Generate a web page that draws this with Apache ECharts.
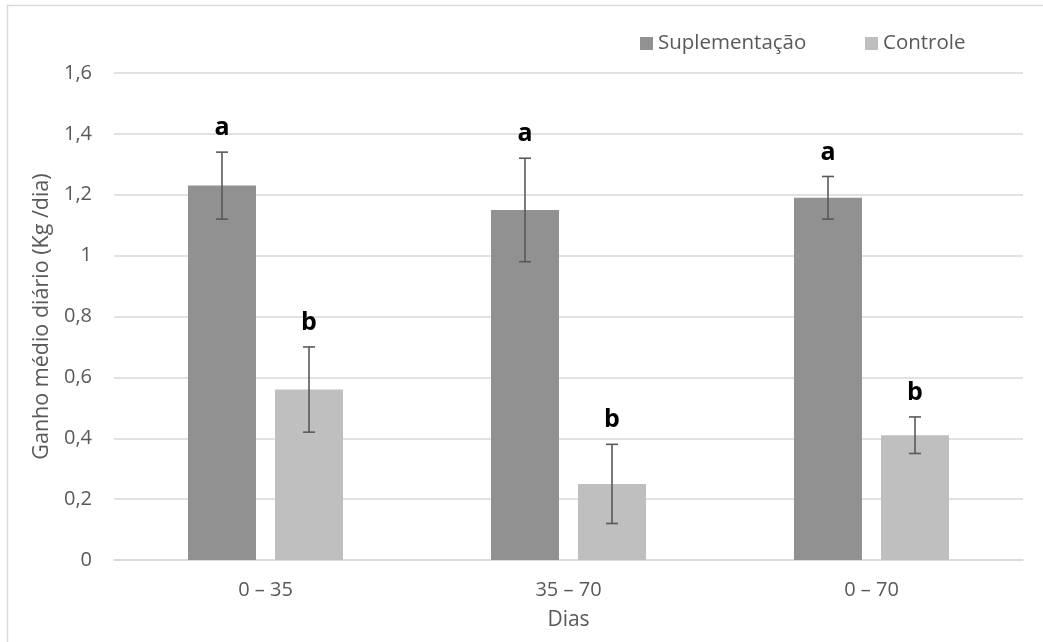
<!DOCTYPE html>
<html>
<head>
<meta charset="utf-8">
<script src="https://cdn.jsdelivr.net/npm/echarts@6/dist/echarts.min.js"></script>
<style>
  html, body { margin: 0; padding: 0; background: #fff; }
  #chart { width: 1043px; height: 642px; }
</style>
</head>
<body>
<div id="chart"></div>
<script>
var categories = ['0 – 35', '35 – 70', '0 – 70'];
var supValues = [1.23, 1.15, 1.19];
var supErrors = [0.11, 0.17, 0.07];
var ctlValues = [0.56, 0.25, 0.41];
var ctlErrors = [0.14, 0.13, 0.06];
var supLetters = ['a', 'a', 'a'];
var ctlLetters = ['b', 'b', 'b'];
var yMin = 0, yMax = 1.6, yStep = 0.2;

var FONT = '"Open Sans", "DejaVu Sans", sans-serif';
var TXT = '#595959';
var BAR_W = 68;
var BAR_GAP = 0.28;

// error bar + letter, shifted onto the matching bar
function errorBars(letters, side) {
	return function(params, api) {
		var i = api.value(0);
		var lo = api.coord([i, api.value(1)]);
		var hi = api.coord([i, api.value(2)]);
		var x = lo[0] + side * (BAR_W + BAR_W * BAR_GAP) / 2;
		var cap = 6;
		var st = { stroke: '#595959', lineWidth: 1.6 };
		return {
			type: 'group',
			children: [
				{ type: 'line', shape: { x1: x, y1: hi[1], x2: x, y2: lo[1] }, style: st },
				{ type: 'line', shape: { x1: x - cap, y1: hi[1], x2: x + cap, y2: hi[1] }, style: st },
				{ type: 'line', shape: { x1: x - cap, y1: lo[1], x2: x + cap, y2: lo[1] }, style: st },
				{ type: 'text', style: {
					text: letters[i], x: x, y: hi[1] - 24,
					align: 'center', verticalAlign: 'middle',
					font: 'bold 25px ' + FONT, fill: '#000'
				} }
			]
		};
	};
}

function errData(values, errors) {
	return values.map(function(v, i) { return [i, v - errors[i], v + errors[i]]; });
}

var option = {
	animation: false,
	backgroundColor: '#fff',
	textStyle: { fontFamily: FONT },
	graphic: [{
		type: 'rect',
		shape: { x: 7.5, y: 5.5, width: 1100, height: 700 },
		style: { fill: 'none', stroke: '#d9d9d9', lineWidth: 1.5 },
		silent: true
	}],
	grid: { left: 114, right: 20, top: 73, bottom: 82 },
	legend: [{
		data: ['Suplementação'],
		left: 635, top: 28,
		itemWidth: 13, itemHeight: 13, itemGap: 5,
		icon: 'rect',
		textStyle: { color: TXT, fontSize: 20.5, fontFamily: FONT }
	}, {
		data: ['Controle'],
		left: 860, top: 28,
		itemWidth: 13, itemHeight: 13, itemGap: 5,
		icon: 'rect',
		textStyle: { color: TXT, fontSize: 20.5, fontFamily: FONT }
	}],
	xAxis: {
		type: 'category',
		data: categories,
		name: 'Dias',
		nameLocation: 'middle',
		nameGap: 50,
		nameTextStyle: { color: TXT, fontSize: 21 },
		axisLine: { lineStyle: { color: '#d9d9d9', width: 1.5 } },
		axisTick: { show: false },
		axisLabel: { color: TXT, fontSize: 20, margin: 20 }
	},
	yAxis: {
		type: 'value',
		min: yMin, max: yMax, interval: yStep,
		name: 'Ganho médio diário (Kg /dia)',
		nameLocation: 'middle',
		nameGap: 60,
		nameTextStyle: { color: TXT, fontSize: 21.5 },
		axisLine: { show: false },
		axisTick: { show: false },
		axisLabel: {
			color: TXT, fontSize: 20, margin: 22,
			formatter: function(v) { return String(+v.toFixed(1)).replace('.', ','); }
		},
		splitLine: { lineStyle: { color: '#d9d9d9', width: 1.5 } }
	},
	series: [{
		name: 'Suplementação',
		type: 'bar',
		data: supValues,
		barWidth: BAR_W,
		barGap: (BAR_GAP * 100) + '%',
		itemStyle: { color: '#919191' }
	}, {
		name: 'Controle',
		type: 'bar',
		data: ctlValues,
		barWidth: BAR_W,
		itemStyle: { color: '#bfbfbf' }
	}, {
		type: 'custom',
		renderItem: errorBars(supLetters, -1),
		data: errData(supValues, supErrors),
		encode: { x: 0, y: [1, 2] },
		z: 10
	}, {
		type: 'custom',
		renderItem: errorBars(ctlLetters, 1),
		data: errData(ctlValues, ctlErrors),
		encode: { x: 0, y: [1, 2] },
		z: 10
	}]
};

var chart = echarts.init(document.getElementById('chart'));
chart.setOption(option, true);
</script>
</body>
</html>
